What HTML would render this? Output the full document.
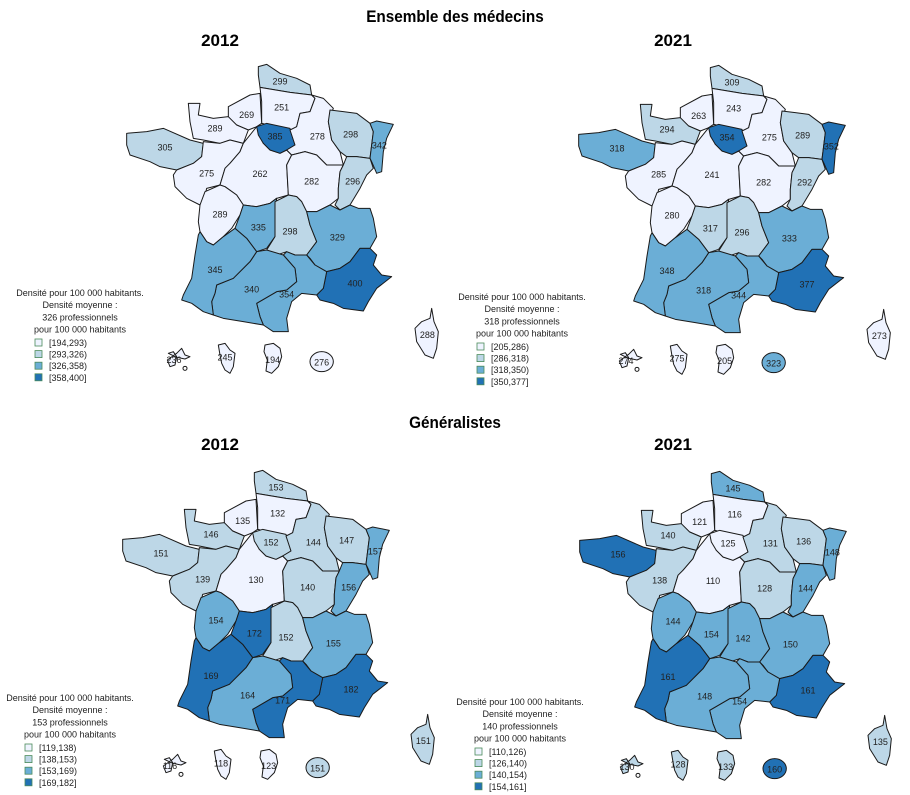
<!DOCTYPE html>
<html><head><meta charset="utf-8">
<style>
html,body{margin:0;padding:0;background:#fff;}
svg{display:block;font-family:"Liberation Sans",Arial,sans-serif;}
.ttl{font-weight:bold;font-size:17px;text-anchor:middle;}
.lab{font-size:9px;text-anchor:middle;fill:#222;}
.leg{font-size:9px;fill:#222;}
</style></head>
<body>
<svg id="chart" width="910" height="795" viewBox="0 0 910 795" xmlns="http://www.w3.org/2000/svg">
<text class="ttl" x="455" y="22" transform="translate(455 0) scale(0.9 1) translate(-455 0)">Ensemble des médecins</text>
<text class="ttl" x="220" y="46">2012</text>
<text class="ttl" x="673" y="46">2021</text>
<text class="ttl" x="455" y="428" transform="translate(455 0) scale(0.9 1) translate(-455 0)">Généralistes</text>
<text class="ttl" x="220" y="450">2012</text>
<text class="ttl" x="673" y="450">2021</text>
</svg>
<script>
// ---- data ----
const regions = ["nord-pas-de-calais","picardie","haute-normandie","basse-normandie","bretagne","pays-de-la-loire","centre","ile-de-france","champagne-ardenne","lorraine","alsace","bourgogne","franche-comte","poitou-charentes","limousin","auvergne","rhone-alpes","paca","languedoc-roussillon","midi-pyrenees","aquitaine","corse","guadeloupe","martinique","guyane","reunion"];
const valsAll2012 = [299,251,269,289,305,275,262,385,278,298,342,282,296,289,335,298,329,400,354,340,345,288,236,245,194,276];
const valsAll2021 = [309,243,263,294,318,285,241,354,275,289,352,282,292,280,317,296,333,377,344,318,348,273,274,275,205,323];
const valsGen2012 = [152.6,132,135,146,151,139,130,152,144,147,157,140,156,154,172,152,155,182,171,164,169,151,116,118,123,151];
const valsGen2021 = [145,116,121,139.6,156,138,110,125,131,136,148,128,144,144,153.6,142,150,161,153.8,148,161,135,130,128,133,160];
const breaksAll2012 = [194,293,326,358,400];
const breaksAll2021 = [205,286,318,350,377];
const breaksGen2012 = [119,138,153,169,182];
const breaksGen2021 = [110,126,140,154,161];
const meansAll = [326,318];
const meansGen = [153,140];

// ---- geometry (zoom coords, 3x) ----
const shapes = {
"nord-pas-de-calais":[[445,35],[470,28],[510,55],[560,70],[600,90],[605,120],[540,112],[450,97],[445,60]],
"picardie":[[450,97],[540,112],[605,120],[615,130],[600,170],[570,175],[560,215],[545,225],[455,205],[455,140]],
"haute-normandie":[[355,155],[420,120],[450,115],[455,205],[440,215],[415,225],[380,210],[355,200]],
"basse-normandie":[[235,145],[270,145],[265,180],[310,190],[355,185],[380,210],[415,225],[400,265],[360,255],[330,265],[280,255],[250,250],[240,200]],
"bretagne":[[50,235],[110,230],[160,220],[240,255],[280,265],[275,305],[250,325],[200,345],[150,335],[120,320],[60,300],[50,270]],
"pays-de-la-loire":[[280,260],[330,265],[360,255],[400,265],[390,290],[360,325],[345,340],[330,390],[290,400],[285,420],[270,450],[230,430],[195,395],[190,360],[200,345],[250,325],[275,305]],
"centre":[[400,265],[440,215],[460,265],[480,285],[510,295],[530,285],[545,300],[530,330],[535,420],[500,430],[480,445],[440,455],[400,450],[380,420],[345,395],[330,390],[345,340],[360,325],[390,290]],
"ile-de-france":[[440,215],[470,205],[540,220],[555,270],[530,285],[510,295],[480,285],[460,265],[445,240]],
"champagne-ardenne":[[605,120],[640,130],[670,160],[655,200],[665,255],[690,290],[700,330],[650,330],[620,300],[585,290],[545,300],[530,285],[555,270],[540,225],[560,215],[570,175],[600,170],[615,130]],
"lorraine":[[660,165],[700,170],[740,175],[780,205],[790,230],[780,310],[740,305],[710,305],[690,290],[665,255],[655,200]],
"alsace":[[780,205],[800,198],[850,208],[830,250],[820,290],[815,350],[800,355],[785,320],[780,310],[790,230]],
"bourgogne":[[545,300],[585,290],[620,300],[650,330],[700,330],[690,350],[685,400],[685,430],[660,450],[620,470],[590,470],[575,440],[560,425],[535,420],[530,330]],
"franche-comte":[[700,330],[710,305],[740,305],[780,310],[790,340],[770,360],[750,400],[720,450],[690,465],[675,450],[685,430],[685,400],[690,350]],
"poitou-charentes":[[285,410],[330,390],[345,395],[380,420],[400,450],[390,480],[365,520],[340,545],[310,570],[290,560],[270,530],[265,500],[270,450]],
"limousin":[[400,450],[440,455],[480,445],[500,430],[495,470],[495,545],[470,580],[440,590],[410,550],[375,520],[390,480]],
"auvergne":[[495,440],[535,420],[560,425],[575,440],[590,470],[600,510],[620,560],[590,600],[555,600],[530,590],[500,600],[470,585],[495,545],[495,470]],
"rhone-alpes":[[590,470],[620,470],[660,450],[690,465],[720,450],[745,460],[780,460],[790,490],[800,545],[780,580],[750,580],[720,620],[690,640],[650,650],[615,630],[600,610],[590,600],[620,560],[600,510]],
"paca":[[650,650],[690,640],[720,620],[750,580],[780,580],[800,600],[790,630],[815,660],[845,665],[800,700],[775,740],[760,768],[700,760],[670,745],[630,735],[620,720],[640,700]],
"languedoc-roussillon":[[530,590],[555,600],[590,600],[615,630],[650,650],[640,700],[620,720],[575,715],[545,740],[530,790],[535,830],[490,830],[460,810],[450,785],[440,745],[500,710],[530,705],[560,680],[555,640],[520,600]],
"midi-pyrenees":[[320,690],[370,670],[420,620],[440,590],[470,585],[520,600],[555,640],[560,680],[530,705],[500,710],[440,745],[450,785],[460,810],[400,800],[340,790],[310,780],[305,740],[315,715]],
"aquitaine":[[270,530],[290,560],[310,570],[340,545],[375,520],[410,550],[440,590],[420,620],[370,670],[320,690],[315,715],[305,740],[310,780],[280,770],[245,745],[215,735],[220,720],[245,670],[255,600],[265,540]],
"corse":[[965,760],[972,800],[985,830],[980,880],[970,910],[945,900],[920,860],[915,820],[935,800],[960,790]],
"guadeloupe":[[175,895],[190,890],[200,905],[195,930],[180,935],[172,915],[200,895],[215,880],[225,900],[240,905],[225,912],[205,908],[196,905]],
"martinique":[[325,870],[345,865],[360,885],[375,895],[370,935],[360,955],[345,945],[335,925],[330,900]],
"guyane":[[465,870],[490,865],[510,880],[515,905],[505,935],[485,955],[468,948],[472,915],[462,890]],
"reunion":null
};
const labelPos = {
"nord-pas-de-calais":[510,80],"picardie":[515,158],"haute-normandie":[410,180],"basse-normandie":[315,220],"bretagne":[165,278],"pays-de-la-loire":[290,355],"centre":[450,357],"ile-de-france":[495,245],"champagne-ardenne":[622,245],"lorraine":[722,238],"alsace":[808,272],"bourgogne":[605,380],"franche-comte":[728,380],"poitou-charentes":[330,478],"limousin":[445,518],"auvergne":[540,530],"rhone-alpes":[682,548],"paca":[735,685],"languedoc-roussillon":[530,718],"midi-pyrenees":[425,703],"aquitaine":[315,645],"corse":[952,840],"guadeloupe":[192,915],"martinique":[345,908],"guyane":[488,915],"reunion":[635,922]
};
const colors = ["#eff3ff","#bdd7e7","#6baed6","#2171b5"];
const NS = "http://www.w3.org/2000/svg";
const svg = document.getElementById("chart");

function classOf(v, br){
  for(let i=1;i<br.length-1;i++){ if(v < br[i]) return i-1; }
  return br.length-2;
}

function drawMap(key, vals, br, ox, oy, mean, lx, ly){
  const g = document.createElementNS(NS,"g");
  
  
  svg.appendChild(g);
  const sg = document.createElementNS(NS,"g");
  sg.setAttribute("transform", `translate(${110+ox} ${55+oy}) scale(0.33333)`);
  g.appendChild(sg);
  regions.forEach((r,i)=>{
    const fill = colors[classOf(vals[i], br)];
    let el;
    if(shapes[r]){
      el = document.createElementNS(NS,"polygon");
      el.setAttribute("points", shapes[r].map(p=>p.join(",")).join(" "));
    } else {
      el = document.createElementNS(NS,"ellipse");
      el.setAttribute("cx",635); el.setAttribute("cy",920); el.setAttribute("rx",35); el.setAttribute("ry",30);
    }
    el.setAttribute("fill", fill);
    el.setAttribute("stroke", "#1a1a1a");
    el.setAttribute("stroke-width", "3");
    el.setAttribute("stroke-linejoin", "round");
    
    
    sg.appendChild(el);
  });
  // small island circle near guadeloupe
  const c = document.createElementNS(NS,"circle");
  c.setAttribute("cx",225); c.setAttribute("cy",940); c.setAttribute("r",6);
  c.setAttribute("fill","#fff"); c.setAttribute("stroke","#1a1a1a"); c.setAttribute("stroke-width","3");
  
  
  sg.appendChild(c);
  regions.forEach((r,i)=>{
    const p = labelPos[r];
    const t = document.createElementNS(NS,"text");
    t.setAttribute("class","lab");
    t.setAttribute("x", 110+ox+p[0]/3);
    t.setAttribute("y", 55+oy+p[1]/3+3);
    t.textContent = Math.round(vals[i]);
    
    
    g.appendChild(t);
  });
  // legend
  const lines = ["Densité pour 100 000 habitants.","Densité moyenne :", mean + " professionnels","pour 100 000 habitants"];
  lines.forEach((s,k)=>{
    const t = document.createElementNS(NS,"text");
    t.setAttribute("class","leg");
    t.setAttribute("text-anchor","middle");
    t.setAttribute("x", lx);
    t.setAttribute("y", ly + k*12.2);
    t.textContent = s;
    
    
    g.appendChild(t);
  });
  for(let k=0;k<4;k++){
    const y = ly + 50 + k*11.6;
    const rc = document.createElementNS(NS,"rect");
    rc.setAttribute("x", lx-45); rc.setAttribute("y", y-7);
    rc.setAttribute("width",7); rc.setAttribute("height",7);
    rc.setAttribute("fill", colors[k]); rc.setAttribute("stroke","#4a8a5a"); rc.setAttribute("stroke-width","0.8");
    
    
    g.appendChild(rc);
    const t = document.createElementNS(NS,"text");
    t.setAttribute("class","leg");
    t.setAttribute("x", lx-31); t.setAttribute("y", y);
    t.textContent = "[" + br[k] + "," + br[k+1] + (k==3?"]":")");
    
    
    g.appendChild(t);
  }
}
drawMap("map-ensemble-2012", valsAll2012, breaksAll2012, 0, 0, meansAll[0], 80, 296);
drawMap("map-ensemble-2021", valsAll2021, breaksAll2021, 452, 1, meansAll[1], 522, 300);
drawMap("map-generalistes-2012", valsGen2012, breaksGen2012, -4, 406, meansGen[0], 70, 701);
drawMap("map-generalistes-2021", valsGen2021, breaksGen2021, 453, 407, meansGen[1], 520, 705);
</script>
</body></html>
